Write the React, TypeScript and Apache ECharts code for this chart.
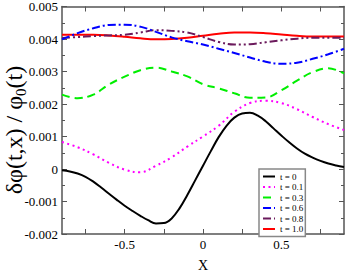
import React, { useEffect, useRef } from "react";
import * as echarts from "echarts";

const xs = [-0.9, -0.8, -0.7, -0.6, -0.5, -0.4, -0.3, -0.2, -0.1, 0, 0.1, 0.2, 0.3, 0.4, 0.5, 0.6, 0.7, 0.8, 0.9];
const xsFine = [-0.9, -0.85, -0.8, -0.75, -0.7, -0.65, -0.6, -0.55, -0.5, -0.45, -0.4, -0.35, -0.3, -0.25, -0.2, -0.15, -0.1, -0.05, 0, 0.05, 0.1, 0.15, 0.2, 0.25, 0.3, 0.35, 0.4, 0.45, 0.5, 0.55, 0.6, 0.65, 0.7, 0.75, 0.8, 0.85, 0.9];

const t0 = [-0.00004, -0.000075, -0.00014, -0.00024, -0.00039, -0.00057, -0.00076, -0.00095, -0.00113, -0.00129, -0.00144, -0.001575, -0.001675, -0.001665, -0.00152, -0.00121, -0.0008, -0.00035, 0.0001, 0.00055, 0.00098, 0.00133, 0.00158, 0.00171, 0.00173, 0.00164, 0.00147, 0.00125, 0.00103, 0.00082, 0.00063, 0.00047, 0.00035, 0.00025, 0.00017, 0.00011, 0.00006];
const t01 = [0.00083, 0.00067, 0.00045, 0.00019, -0.00002, -0.0001, 0.0001, 0.00036, 0.00069, 0.001, 0.00133, 0.00176, 0.00203, 0.0021, 0.00203, 0.00184, 0.0016, 0.00138, 0.0012];
const t03 = [0.00229, 0.00218, 0.00229, 0.0026, 0.00284, 0.00304, 0.00312, 0.003, 0.00285, 0.00261, 0.00248, 0.00233, 0.00219, 0.0022, 0.00242, 0.00272, 0.00298, 0.0031, 0.00294];
const t06 = [0.00399, 0.00418, 0.00433, 0.00443, 0.00444, 0.00438, 0.00422, 0.00405, 0.00393, 0.00383, 0.0037, 0.00357, 0.00343, 0.0033, 0.00324, 0.00327, 0.00339, 0.00353, 0.0037];
const t08 = [0.00403, 0.00406, 0.00409, 0.00411, 0.00413, 0.0042, 0.00427, 0.00425, 0.0042, 0.00406, 0.00391, 0.00383, 0.00384, 0.0039, 0.00396, 0.00401, 0.00404, 0.00404, 0.00404];
const t10 = [0.00413, 0.00413, 0.00413, 0.00411, 0.00407, 0.00402, 0.00399, 0.004, 0.00404, 0.0041, 0.00416, 0.0042, 0.0042, 0.00418, 0.00414, 0.0041, 0.00408, 0.00408, 0.00408];

const legendNames = ["t = 0", "t = 0.1", "t = 0.3", "t = 0.6", "t = 0.8", "t = 1.0"];
const seriesData = [t0, t01, t03, t06, t08, t10];
const seriesX = [xsFine, xs, xs, xs, xs, xs];
const xTickValues = [-0.75, -0.5, -0.25, 0, 0.25, 0.5, 0.75];
const xLabelValues = [-0.5, 0, 0.5];

const colors = ["#000000", "#ff00ff", "#00ee00", "#0000ff", "#6b1a5c", "#ff0000"];
const dashes: any[] = ["solid", [2, 3.5], [8, 5], [8, 3, 2, 3], [8, 3, 2, 3, 2, 3], "solid"];

const FONT = "'Liberation Serif', 'DejaVu Serif', serif";

export default function App() {
  const ref = useRef<HTMLDivElement>(null);
  useEffect(() => {
    if (!ref.current) return;
    const chart = echarts.init(ref.current, null, { renderer: "svg" });
    const axisColor = "#555";
    const series = seriesData.map((d, i) => ({
      name: legendNames[i],
      type: "line",
      smooth: 0.4,
      symbol: "none",
      data: seriesX[i].map((x, j) => [x, d[j]]),
      lineStyle: { color: colors[i], width: 2, type: dashes[i] },
      itemStyle: { color: colors[i] },
      z: 10 - i,
    }));
    const axisLine = { show: true, onZero: false, lineStyle: { color: axisColor, width: 1.5 } };
    chart.setOption({
      animation: false,
      backgroundColor: "#fff",
      textStyle: { fontFamily: FONT },
      grid: { left: 62, right: 2, top: 6, bottom: 30 },
      legend: {
        data: legendNames,
        orient: "vertical",
        left: 259,
        top: 169,
        padding: [3, 2, 3, 3],
        itemWidth: 12,
        itemHeight: 9,
        itemGap: 1.5,
        borderColor: "#888",
        borderWidth: 1.5,
        backgroundColor: "#fff",
        itemStyle: { opacity: 0 },
        textStyle: { fontFamily: FONT, fontSize: 9, color: "#000", lineHeight: 9 },
      },
      xAxis: [
        {
          type: "value",
          min: -0.9,
          max: 0.9,
          name: "X",
          nameLocation: "middle",
          nameGap: 24,
          nameTextStyle: { fontFamily: FONT, fontSize: 14, color: "#000" },
          axisLine,
          axisTick: { show: true, inside: true, length: 5, customValues: xTickValues, lineStyle: { color: axisColor } },
          axisLabel: {
            fontFamily: FONT,
            fontSize: 13,
            color: "#000",
            margin: 4,
            customValues: xLabelValues,
            formatter: (v: number) => (v === 0 ? "0" : String(v)),
          },
          splitLine: { show: false },
        },
        {
          type: "value",
          position: "top",
          min: -0.9,
          max: 0.9,
          axisLine,
          axisTick: { show: true, inside: true, length: 5, customValues: xTickValues, lineStyle: { color: axisColor } },
          axisLabel: { show: false },
          splitLine: { show: false },
        },
      ],
      yAxis: [
        {
          type: "value",
          min: -0.002,
          max: 0.005,
          interval: 0.001,
          axisLine,
          axisTick: { show: true, inside: true, length: 5, lineStyle: { color: axisColor } },
          minorTick: { show: true, splitNumber: 2, length: 3, lineStyle: { color: axisColor } },
          axisLabel: {
            fontFamily: FONT,
            fontSize: 13,
            color: "#000",
            margin: 4,
            formatter: (v: number) => {
              const r = Math.round(v * 1000) / 1000;
              return r === 0 ? "0" : r.toFixed(3);
            },
          },
          splitLine: { show: false },
        },
        {
          type: "value",
          position: "right",
          min: -0.002,
          max: 0.005,
          interval: 0.001,
          axisLine,
          axisTick: { show: true, inside: true, length: 5, lineStyle: { color: axisColor } },
          minorTick: { show: true, splitNumber: 2, length: 3, lineStyle: { color: axisColor } },
          axisLabel: { show: false },
          splitLine: { show: false },
        },
      ],
      graphic: [
        {
          type: "text",
          x: 14,
          y: 130,
          rotation: Math.PI / 2,
          style: {
            text: "{a|δφ(t,x) / φ}{s|0}{a|(t)}",
            align: "center",
            verticalAlign: "middle",
            fill: "#000",
            rich: {
              a: { fontFamily: FONT, fontSize: 24, fill: "#000", lineHeight: 28, verticalAlign: "middle" },
              s: { fontFamily: FONT, fontSize: 15, fill: "#000", lineHeight: 28, verticalAlign: "bottom", padding: [10, 0, 0, 0] },
            },
          },
        },
      ],
      series,
    });
    return () => chart.dispose();
  }, []);
  return <div ref={ref} style={{ position: "fixed", left: 0, top: 0, width: 346, height: 277 }} />;
}
